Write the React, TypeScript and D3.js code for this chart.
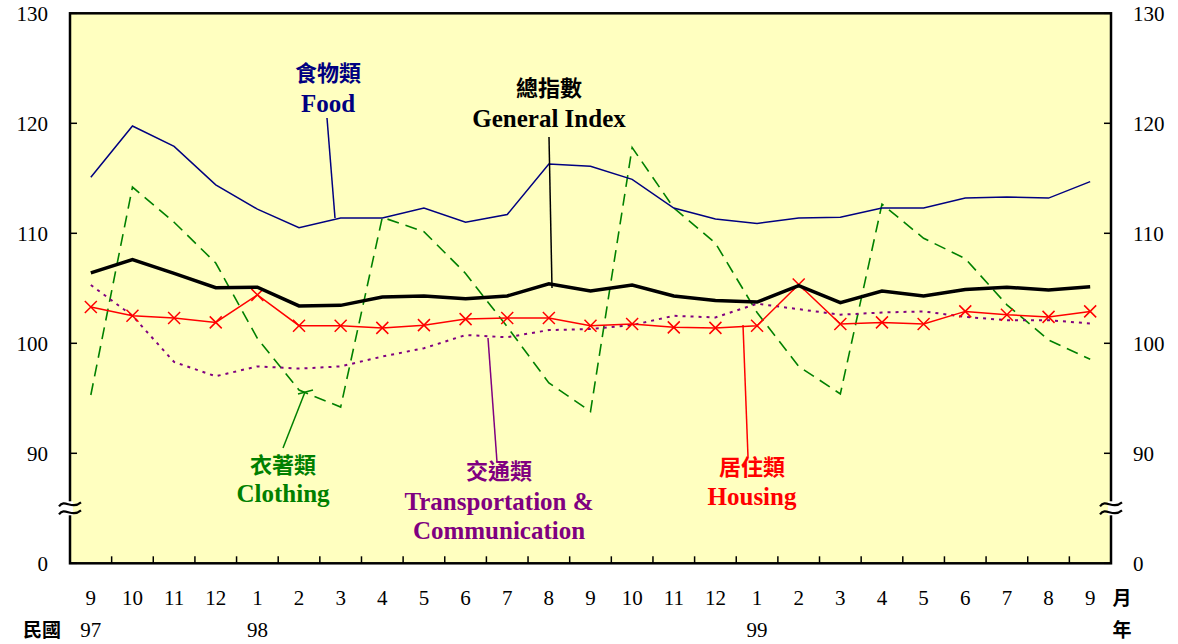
import * as d3 from "d3"

const months = ["9", "10", "11", "12", "1", "2", "3", "4", "5", "6", "7", "8", "9", "10", "11", "12", "1", "2", "3", "4", "5", "6", "7", "8", "9"]
const years = [
  { idx: 0, label: "97" },
  { idx: 4, label: "98" },
  { idx: 16, label: "99" },
]
const yTicks = [90, 100, 110, 120, 130]

const food = [115.1, 119.75, 117.9, 114.4, 112.2, 110.5, 111.4, 111.4, 112.3, 111.0, 111.7, 116.3, 116.1, 114.9, 112.3, 111.3, 110.9, 111.4, 111.45, 112.3, 112.3, 113.2, 113.3, 113.2, 114.7]
const general = [106.4, 107.6, 106.35, 105.05, 105.1, 103.4, 103.45, 104.2, 104.3, 104.05, 104.3, 105.4, 104.75, 105.3, 104.3, 103.9, 103.75, 105.25, 103.7, 104.75, 104.3, 104.9, 105.1, 104.85, 105.15]
const housing = [103.3, 102.5, 102.3, 101.9, 104.4, 101.6, 101.6, 101.4, 101.65, 102.2, 102.3, 102.3, 101.6, 101.75, 101.45, 101.4, 101.6, 105.35, 101.75, 101.9, 101.75, 102.9, 102.6, 102.4, 102.9]
const transport = [105.3, 102.5, 98.3, 97.0, 97.9, 97.7, 97.9, 98.8, 99.55, 100.75, 100.55, 101.2, 101.3, 101.65, 102.5, 102.35, 103.6, 103.1, 102.6, 102.8, 102.9, 102.4, 102.1, 102.1, 101.8]
const clothing = [95.3, 114.2, 111.0, 107.3, 100.45, 95.75, 94.2, 111.45, 110.15, 106.35, 101.5, 96.4, 93.8, 117.8, 112.3, 109.1, 102.8, 97.9, 95.4, 112.65, 109.55, 107.7, 103.5, 100.3, 98.55]

const W = 1178
const H = 644
const left = 70
const right = 1111
const top = 13.3
const bottom = 563.3

const serif = "'Liberation Serif', 'Times New Roman', serif"
const cjk = "'Noto Sans CJK TC', 'Noto Sans CJK SC', sans-serif"

export default function App() {
  const x = d3.scaleBand<number>().domain(d3.range(months.length)).range([left, right])
  const cx = (i: number) => (x(i) || 0) + x.bandwidth() / 2
  const y = d3.scaleLinear().domain([80, 130]).range([bottom, top])

  const line = d3
    .line<number>()
    .x((_, i) => cx(i))
    .y((d) => y(d))

  const boundaries = d3.range(1, months.length).map((i) => x(i) || 0)

  // little double wave for the axis break
  const wave = (x0: number, y0: number) => {
    const p = d3.path()
    for (const dy of [-4, 4]) {
      p.moveTo(x0 - 11, y0 + dy + 2)
      p.bezierCurveTo(x0 - 5, y0 + dy - 6, x0 + 1, y0 + dy + 6, x0 + 11, y0 + dy - 2)
    }
    return p.toString()
  }

  return (
    <svg width={W} height={H} style={{ position: "absolute", left: 0, top: 0, background: "#fff" }}>
      <rect x={left} y={top} width={right - left} height={bottom - top} fill="#FFFFC0" stroke="#000" strokeWidth={2.5} />

      {[80, ...yTicks].map((v) => (
        <g key={v}>
          <line x1={left} x2={left + 7} y1={y(v)} y2={y(v)} stroke="#000" strokeWidth={1.5} />
          <line x1={right - 7} x2={right} y1={y(v)} y2={y(v)} stroke="#000" strokeWidth={1.5} />
          <text x={48} y={y(v)} dy="0.35em" textAnchor="end" fontFamily={serif} fontSize={21}>
            {v === 80 ? "0" : v}
          </text>
          <text x={1133} y={y(v)} dy="0.35em" textAnchor="start" fontFamily={serif} fontSize={21}>
            {v === 80 ? "0" : v}
          </text>
        </g>
      ))}

      {boundaries.map((bx, i) => (
        <line key={i} x1={bx} x2={bx} y1={bottom} y2={bottom - 7} stroke="#000" strokeWidth={1.5} />
      ))}
      {months.map((m, i) => (
        <text key={i} x={cx(i)} y={598} dy="0.35em" textAnchor="middle" fontFamily={serif} fontSize={21}>
          {m}
        </text>
      ))}
      {years.map((yy) => (
        <text key={yy.label} x={cx(yy.idx)} y={630} dy="0.35em" textAnchor="middle" fontFamily={serif} fontSize={21}>
          {yy.label}
        </text>
      ))}
      <text x={42} y={630} dy="0.35em" textAnchor="middle" fontFamily={cjk} fontWeight="bold" fontSize={19}>
        民國
      </text>
      <text x={1122} y={598} dy="0.35em" textAnchor="middle" fontFamily={cjk} fontWeight="bold" fontSize={19}>
        月
      </text>
      <text x={1122} y={630} dy="0.35em" textAnchor="middle" fontFamily={cjk} fontWeight="bold" fontSize={19}>
        年
      </text>

      {[left, right].map((bx) => (
        <g key={bx}>
          <rect x={bx - 3} y={y(85) - 7} width={6} height={14} fill="#fff" />
          <path d={wave(bx, y(85))} fill="none" stroke="#000" strokeWidth={2.2} />
        </g>
      ))}

      <path d={line(clothing) || ""} fill="none" stroke="#008000" strokeWidth={1.6} strokeDasharray="12,7" />
      <path d={line(transport) || ""} fill="none" stroke="#800080" strokeWidth={2} strokeDasharray="3,5" />
      <path d={line(food) || ""} fill="none" stroke="#000080" strokeWidth={1.5} />
      <path d={line(housing) || ""} fill="none" stroke="#FF0000" strokeWidth={1.5} />
      {housing.map((v, i) => (
        <path
          key={i}
          d={`M${cx(i) - 6},${y(v) - 6}L${cx(i) + 6},${y(v) + 6}M${cx(i) - 6},${y(v) + 6}L${cx(i) + 6},${y(v) - 6}`}
          stroke="#FF0000"
          strokeWidth={1.5}
        />
      ))}
      <path d={line(general) || ""} fill="none" stroke="#000" strokeWidth={3.5} />

      {/* leader lines */}
      <line x1={327} y1={118} x2={335} y2={218} stroke="#000080" strokeWidth={1.5} />
      <line x1={549} y1={137} x2={552} y2={288} stroke="#000" strokeWidth={1.5} />
      <line x1={305} y1={392} x2={283} y2={448} stroke="#008000" strokeWidth={1.5} />
      <line x1={313} y1={390} x2={298} y2={394} stroke="#008000" strokeWidth={1.5} />
      <line x1={488} y1={338} x2={497} y2={462} stroke="#800080" strokeWidth={1.5} />
      <line x1={743} y1={325} x2={748} y2={457} stroke="#FF0000" strokeWidth={1.5} />

      <g fontWeight="bold" textAnchor="middle">
        <text x={328} y={73} dy="0.35em" fontFamily={cjk} fontSize={22} fill="#000080">食物類</text>
        <text x={328} y={103} dy="0.35em" fontFamily={serif} fontSize={25} fill="#000080">Food</text>
        <text x={549} y={88} dy="0.35em" fontFamily={cjk} fontSize={22} fill="#000">總指數</text>
        <text x={549} y={118} dy="0.35em" fontFamily={serif} fontSize={25} fill="#000">General Index</text>
        <text x={283} y={465} dy="0.35em" fontFamily={cjk} fontSize={22} fill="#008000">衣著類</text>
        <text x={283} y={493} dy="0.35em" fontFamily={serif} fontSize={25} fill="#008000">Clothing</text>
        <text x={499} y={471} dy="0.35em" fontFamily={cjk} fontSize={22} fill="#800080">交通類</text>
        <text x={499} y={501} dy="0.35em" fontFamily={serif} fontSize={25} fill="#800080">Transportation &amp;</text>
        <text x={499} y={530} dy="0.35em" fontFamily={serif} fontSize={25} fill="#800080">Communication</text>
        <text x={752} y={467} dy="0.35em" fontFamily={cjk} fontSize={22} fill="#FF0000">居住類</text>
        <text x={752} y={496} dy="0.35em" fontFamily={serif} fontSize={25} fill="#FF0000">Housing</text>
      </g>
    </svg>
  )
}
